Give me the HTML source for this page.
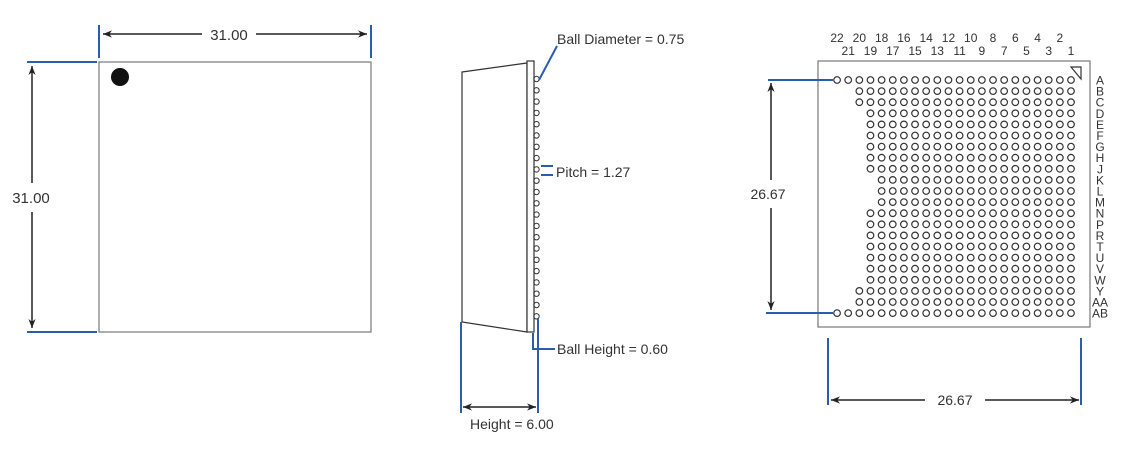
<!DOCTYPE html>
<html><head><meta charset="utf-8"><style>
html,body{margin:0;padding:0;background:#fff;}
svg{display:block;font-family:"Liberation Sans",sans-serif;}
</style></head><body>
<svg id="s" width="1128" height="455" viewBox="0 0 1128 455" xmlns="http://www.w3.org/2000/svg">
<defs>
<marker id="a" viewBox="0 0 10 10" refX="10" refY="5" markerWidth="9" markerHeight="9" markerUnits="userSpaceOnUse" orient="auto-start-reverse"><path d="M0,1 L10,5 L0,9 L3,5 z" fill="#222"/></marker>
</defs>
<!-- Left top view -->
<rect x="99" y="62" width="272" height="270" fill="none" stroke="#777" stroke-width="1.2"/>
<circle cx="120" cy="77" r="9" fill="#111"/>
<g stroke="#2a5db0" stroke-width="2">
<line x1="99" y1="25" x2="99" y2="58"/><line x1="371" y1="25" x2="371" y2="58"/>
<line x1="27" y1="62" x2="97" y2="62"/><line x1="27" y1="332" x2="97" y2="332"/>
</g>
<g stroke="#222" stroke-width="1.5">
<line x1="103" y1="34" x2="202" y2="34" marker-start="url(#a)"/>
<line x1="256" y1="34" x2="367" y2="34" marker-end="url(#a)"/>
<line x1="32" y1="66" x2="32" y2="183" marker-start="url(#a)"/>
<line x1="32" y1="212" x2="32" y2="328" marker-end="url(#a)"/>
</g>
<text x="229" y="40" font-size="15" text-anchor="middle" fill="#333">31.00</text>
<text x="31" y="203" font-size="15" text-anchor="middle" fill="#333">31.00</text>
<!-- Side view -->
<path d="M462,72 L527,63 L527,332 L462,322 Z" fill="#fff" stroke="#333" stroke-width="1.2"/>
<rect x="527" y="61" width="7" height="271" fill="#fff" stroke="#333" stroke-width="1.2"/>
<g id="sb" fill="none" stroke="#333" stroke-width="1"></g>
<g stroke="#2a5db0" stroke-width="2" fill="none">
<line x1="539" y1="80" x2="557" y2="46"/>
<line x1="541" y1="166" x2="553" y2="166"/><line x1="541" y1="175" x2="553" y2="175"/>
<line x1="533" y1="333" x2="533" y2="350"/><line x1="533" y1="349" x2="555" y2="349"/>
<line x1="461" y1="322" x2="461" y2="413"/><line x1="538" y1="318" x2="538" y2="413"/>
</g>
<line x1="463" y1="407" x2="536" y2="407" stroke="#222" stroke-width="1.5" marker-start="url(#a)" marker-end="url(#a)"/>
<g font-size="14" fill="#333">
<text x="557" y="44">Ball Diameter = 0.75</text>
<text x="556" y="177">Pitch = 1.27</text>
<text x="557" y="354">Ball Height = 0.60</text>
<text x="470" y="429">Height = 6.00</text>
</g>
<!-- Bottom view -->
<rect x="818" y="61" width="272" height="266" fill="#fff" stroke="#777" stroke-width="1.2"/>
<path d="M1071,67 L1081,67 L1081,79 Z" fill="none" stroke="#333" stroke-width="1.2"/>
<g id="gb" fill="none" stroke="#333" stroke-width="1.2"></g>
<g id="lbl" font-size="12" fill="#333"></g>
<g stroke="#2a5db0" stroke-width="2">
<line x1="768" y1="80" x2="833" y2="80"/><line x1="766" y1="313" x2="833" y2="313"/>
<line x1="828" y1="338" x2="828" y2="405"/><line x1="1081" y1="338" x2="1081" y2="405"/>
</g>
<g stroke="#222" stroke-width="1.5">
<line x1="771" y1="83" x2="771" y2="180" marker-start="url(#a)"/>
<line x1="771" y1="208" x2="771" y2="310" marker-end="url(#a)"/>
<line x1="831" y1="400" x2="925" y2="400" marker-start="url(#a)"/>
<line x1="985" y1="400" x2="1079" y2="400" marker-end="url(#a)"/>
</g>
<text x="768" y="199" font-size="14" text-anchor="middle" fill="#333">26.67</text>
<text x="955" y="405" font-size="14" text-anchor="middle" fill="#333">26.67</text>
</svg>
<script>
var NS="http://www.w3.org/2000/svg";
function el(p,t,a,txt){var e=document.createElementNS(NS,t);for(var k in a)e.setAttribute(k,a[k]);if(txt)e.textContent=txt;document.getElementById(p).appendChild(e);}
for(var i=0;i<22;i++){el("sb","circle",{cx:536.5,cy:79+i*11.3,r:2.7});}
var rows=["A","B","C","D","E","F","G","H","J","K","L","M","N","P","R","T","U","V","W","Y","AA","AB"];
var start=[22,20,20,19,19,19,19,19,19,18,18,18,19,19,19,19,19,19,19,20,20,22];
for(var r=0;r<22;r++){
 var y=80+r*11.1;
 for(var c=1;c<=start[r];c++){el("gb","circle",{cx:1071-(c-1)*11.14,cy:y,r:3.3});}
 el("lbl","text",{x:1100,y:y+4.5,"text-anchor":"middle"},rows[r]);
}
for(var c=1;c<=22;c++){var x=1071-(c-1)*11.14;el("lbl","text",{x:x,y:(c%2==0?42:55),"text-anchor":"middle"},String(c));}
</script>
</body></html>
